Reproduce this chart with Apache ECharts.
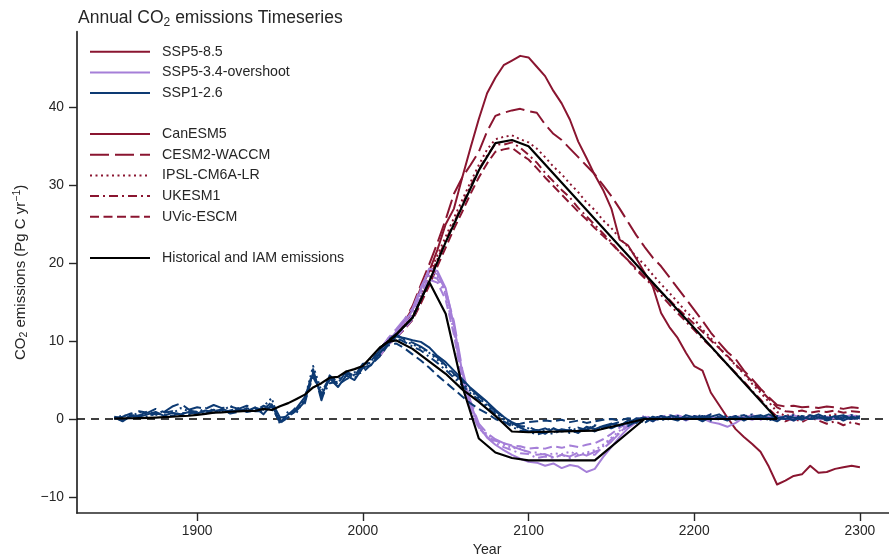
<!DOCTYPE html>
<html><head><meta charset="utf-8">
<script src="https://cdn.jsdelivr.net/npm/echarts@6/dist/echarts.min.js"></script>
<style>html,body{margin:0;padding:0;background:#fff}#c{width:889px;height:557px}</style>
</head><body><div id="c"></div>
<script>
// ---------- data ----------
const histYears = [1850,1855,1860,1865,1870,1875,1880,1885,1890,1895,
  1900,1905,1910,1915,1920,1925,1930,1935,1940,1945,
  1950,1955,1960,1965,1970,1975,1980,1985,1990,1995,
  2000,2005,2010];
const futYears = [2015,2020,2025,2030,2035,2040,2045,2050,2055,2060,
  2065,2070,2075,2080,2085,2090,2095,2100,2105,2110,
  2115,2120,2125,2130,2135,2140,2145,2150,2155,2160,
  2165,2170,2175,2180,2185,2190,2195,2200,2205,2210,
  2215,2220,2225,2230,2235,2240,2245,2250,2255,2260,
  2265,2270,2275,2280,2285,2290,2295,2300];

// historical (all drawn in SSP1-2.6 colour)
const canHist = [0.2,-0.3,0.4,0.3,0.6,0.9,0.4,0.8,0.6,0.9,
  0.7,1.1,0.8,1.3,0.9,1.2,1.0,1.5,0.6,1.9,
  -0.4,0.6,1.4,2.8,5.9,3.0,5.2,4.1,5.6,5.0,
  6.6,6.9,8.4];
const cesmHist = [0.1,0.3,0.7,1.0,0.8,1.3,0.9,1.6,2.0,1.2,
  1.5,1.3,1.8,1.4,1.6,1.3,1.7,1.4,1.2,2.2,
  0.2,0.3,1.1,2.2,6.4,2.4,5.6,4.6,6.1,5.5,
  7.1,7.2,8.8];
const ipslHist = [0.0,0.5,0.3,0.9,0.6,0.5,1.1,0.7,1.4,1.0,
  0.8,1.4,1.1,1.0,1.7,1.0,1.3,1.2,1.6,2.7,
  -0.7,1.0,0.8,2.6,6.8,3.6,5.0,5.2,5.4,6.0,
  6.2,7.8,8.2];
const ukHist = [0.3,0.1,0.2,0.5,0.3,0.7,0.5,0.4,0.8,0.6,
  1.0,0.9,1.2,0.8,1.1,1.4,0.9,1.1,1.7,1.3,
  -0.2,0.4,1.6,2.0,6.1,2.8,4.6,4.8,5.9,5.2,
  6.9,7.4,9.0];
const uvicHist = [0.2,-0.2,0.5,0.4,1.0,0.6,0.8,1.0,0.5,1.1,
  0.9,0.7,1.0,1.2,0.7,0.9,1.4,1.0,1.0,1.6,
  -0.5,0.2,1.2,2.4,5.4,3.3,5.4,4.4,5.1,5.7,
  6.0,7.0,8.0];

// SSP1-2.6
const can126 = [9.6,10.6,10.4,10.1,9.9,9.2,8.1,7.3,6.2,5.1,
  4.0,3.1,2.2,1.2,0.3,-0.5,-1.1,-1.6,-1.4,-1.9,
  -1.2,-1.6,-1.4,-1.8,-1.0,-1.3,-0.9,-0.6,-0.9,-0.2,
  -0.5,0.2,-0.3,0.4,0.1,-0.2,0.5,0.2,-0.3,0.3,
  0.6,0.0,0.4,-0.2,0.3,0.5,0.1,-0.3,0.4,0.2,
  -0.1,0.5,0.2,0.0,0.4,-0.2,0.3,0.1];
const cesm126 = [10.1,10.9,10.2,9.8,9.3,8.6,7.9,6.9,5.8,4.9,
  3.9,2.9,2.0,1.0,0.2,-0.4,-0.9,-1.0,-1.5,-1.2,
  -1.7,-1.3,-1.5,-1.1,-1.4,-0.9,-1.2,-0.7,-0.4,-0.6,
  0.1,-0.3,0.3,0.0,0.5,0.2,-0.1,0.4,0.1,0.6,
  0.2,-0.2,0.3,0.5,0.0,0.2,0.6,0.1,0.3,-0.2,
  0.4,0.2,0.6,0.1,0.3,0.5,0.0,0.4];
const ipsl126 = [10.0,10.3,10.0,9.6,9.1,8.5,7.6,6.7,5.6,4.6,
  3.6,2.7,1.8,0.8,-0.1,-0.7,-1.2,-1.2,-1.7,-1.4,
  -1.2,-1.6,-1.1,-1.5,-1.3,-0.8,-1.1,-0.6,-0.8,-0.3,
  -0.1,-0.4,0.2,0.3,-0.1,0.4,0.1,0.3,0.5,-0.1,
  0.2,0.4,0.0,0.3,0.6,0.2,-0.1,0.4,0.1,0.5,
  0.2,0.0,0.3,0.4,0.1,0.2,0.5,0.2];
const uk126 = [9.8,10.5,9.9,9.3,8.8,8.0,7.2,6.3,5.3,4.3,
  3.3,2.5,1.6,0.6,-0.3,-1.0,-1.5,-1.6,-2.0,-1.7,
  -1.9,-1.4,-1.8,-1.5,-1.2,-1.6,-1.0,-1.2,-0.7,-0.9,
  -0.3,-0.5,0.1,-0.2,0.3,-0.1,0.2,0.0,0.4,-0.2,
  0.1,0.3,-0.1,0.2,0.0,0.4,-0.2,0.3,0.1,-0.1,
  0.3,0.0,0.2,-0.2,0.1,0.3,0.0,0.2];
const uvic126 = [9.4,9.7,9.1,8.3,7.5,6.6,5.6,4.7,3.8,2.9,
  2.0,1.3,0.7,0.0,-0.4,-0.7,-0.6,-0.4,-0.3,-0.2,
  -0.3,-0.1,-0.4,-0.2,-0.5,-0.3,-0.1,0.0,-0.2,0.1,
  0.0,0.2,0.1,-0.1,0.2,0.1,0.0,0.2,0.1,0.3,
  0.1,0.0,0.2,0.1,0.0,0.2,0.1,0.1,0.0,0.2,
  0.1,0.0,0.1,0.2,0.0,0.1,0.1,0.0];

// SSP5-3.4-overshoot
const can534 = [9.8,11.2,12.4,13.9,16.6,19.3,19.0,16.8,12.0,6.0,
  2.0,-0.9,-2.4,-3.3,-4.0,-4.6,-5.1,-5.5,-5.6,-6.0,
  -5.7,-6.3,-5.9,-6.1,-6.8,-6.4,-4.9,-3.6,-2.3,-1.2,
  -0.4,0.2,-0.3,0.3,0.1,0.4,-0.2,0.3,0.1,-0.4,
  -0.6,-1.0,-0.5,0.2,-0.1,0.3,0.0,0.4,0.1,-0.2,
  0.3,0.1,0.4,0.0,0.2,-0.1,0.3,0.1];
const cesm534 = [10.3,11.5,12.8,14.2,16.9,19.0,18.6,16.5,12.5,6.4,
  2.3,-0.6,-1.8,-2.6,-3.1,-3.5,-3.9,-4.2,-4.6,-4.5,
  -4.9,-4.6,-4.8,-4.3,-4.7,-4.2,-3.8,-2.9,-1.8,-0.9,
  -0.1,0.3,0.0,0.4,0.2,0.5,0.1,0.4,0.2,0.6,
  0.3,0.1,0.4,0.2,0.5,0.1,0.3,0.4,0.2,0.5,
  0.1,0.3,0.4,0.2,0.0,0.3,0.5,0.2];
const ipsl534 = [10.1,11.0,12.3,13.6,16.2,18.6,18.3,16.2,11.8,5.8,
  1.9,-0.7,-2.0,-2.8,-3.3,-3.7,-3.8,-4.3,-4.3,-4.7,
  -4.4,-4.5,-4.2,-4.6,-4.3,-4.0,-3.3,-2.4,-1.5,-0.6,
  0.0,0.4,0.1,0.3,0.5,0.0,0.3,0.2,0.4,0.1,
  0.3,0.0,0.2,0.5,0.1,0.3,0.2,0.0,0.4,0.2,
  0.1,0.4,0.0,0.2,0.3,0.1,0.2,0.4];
const uk534 = [9.9,10.9,12.0,13.3,15.9,18.4,18.0,15.9,11.2,5.2,
  1.4,-1.1,-2.3,-3.1,-3.6,-4.0,-4.4,-4.5,-5.0,-4.8,
  -5.0,-4.6,-5.0,-4.7,-4.4,-4.6,-3.5,-2.6,-1.7,-0.8,
  -0.2,0.1,-0.2,0.2,0.0,0.3,-0.1,0.2,0.1,0.3,
  -0.1,0.2,0.0,0.3,0.1,-0.1,0.2,0.0,0.3,0.1,
  -0.1,0.2,0.0,0.3,0.1,0.2,0.0,0.1];
const uvic534 = [9.5,10.4,11.6,12.8,15.4,17.9,17.5,15.3,10.8,4.9,
  1.2,-1.2,-2.2,-2.8,-3.1,-3.4,-3.5,-3.8,-3.7,-3.8,
  -3.5,-3.7,-3.4,-3.6,-3.3,-3.1,-2.6,-1.9,-1.1,-0.5,
  -0.1,0.1,0.0,0.2,0.1,0.0,0.2,0.1,0.1,0.2,
  0.0,0.1,0.2,0.1,0.0,0.1,0.2,0.1,0.0,0.1,
  0.2,0.1,0.0,0.1,0.1,0.0,0.1,0.1];

// SSP5-8.5
const can585 = [9.9,11.0,12.4,14.2,16.8,18.9,21.7,25.0,27.0,31.0,
  34.8,38.5,41.8,43.8,45.4,46.0,46.6,46.4,45.2,44.0,
  42.1,40.5,38.4,35.6,33.5,31.3,29.4,27.0,23.0,22.3,
  20.6,18.8,17.0,13.6,11.8,10.4,8.5,6.8,6.2,3.4,
  1.8,0.2,-1.3,-2.3,-3.2,-4.2,-6.1,-8.4,-7.9,-7.3,
  -7.1,-6.0,-6.9,-6.8,-6.4,-6.2,-6.0,-6.2];
const cesm585 = [10.0,11.2,12.6,14.5,17.2,19.8,22.6,25.6,28.9,31.0,
  32.6,34.3,36.9,38.9,39.3,39.6,39.8,39.5,39.3,37.8,
  36.6,35.8,34.7,33.6,32.5,31.4,30.0,28.6,27.0,25.3,
  23.6,22.1,20.7,19.6,18.2,16.8,15.4,14.0,12.6,11.1,
  9.8,8.6,7.7,6.2,5.1,3.9,2.8,1.8,1.6,1.7,
  1.5,1.6,1.4,1.6,1.5,1.3,1.5,1.4];
const ipsl585 = [10.1,11.1,12.2,13.6,15.9,18.5,21.0,23.4,25.8,28.1,
  30.4,32.6,34.6,35.9,36.2,36.4,35.9,35.5,34.7,33.6,
  32.4,31.4,30.2,29.1,27.8,26.8,25.5,24.5,23.2,22.1,
  20.8,19.8,18.5,17.3,16.2,15.0,13.8,12.8,11.5,10.4,
  9.2,8.0,6.9,5.8,4.5,3.4,2.2,0.9,0.4,0.6,
  0.2,0.5,0.1,0.4,0.6,0.2,0.5,0.3];
const uk585 = [9.7,10.9,12.0,13.4,15.6,18.0,20.5,22.9,25.2,27.5,
  29.9,32.0,33.8,35.3,35.2,35.5,34.8,33.9,32.9,31.6,
  30.5,29.4,28.4,27.1,26.0,24.9,23.8,22.7,21.4,20.4,
  19.1,18.1,17.1,15.9,14.7,13.6,12.5,11.4,10.3,9.3,
  8.1,7.0,5.9,4.8,3.6,2.5,1.3,0.3,-0.3,0.1,
  -0.4,0.2,-0.2,-0.6,-0.3,-0.8,-0.4,-0.7];
const uvic585 = [9.5,10.4,11.5,12.7,14.8,17.1,19.6,22.0,24.4,26.6,
  28.9,31.0,32.8,34.3,34.6,34.8,34.0,33.3,32.2,31.0,
  29.9,28.8,27.7,26.6,25.6,24.5,23.5,22.5,21.4,20.4,
  19.3,18.3,17.3,16.3,15.3,14.2,13.2,12.2,11.2,10.1,
  9.1,8.1,7.0,5.9,4.8,3.7,2.6,1.5,1.0,0.9,
  1.1,0.8,1.0,0.9,1.1,0.8,1.0,0.9];

// historical and IAM emissions (black)
const blackHist = [0.05,0.07,0.10,0.12,0.15,0.19,0.24,0.29,0.36,0.42,
  0.53,0.66,0.82,0.84,0.93,0.98,1.05,1.03,1.30,1.16,
  1.63,2.04,2.58,3.13,4.05,4.60,5.30,5.40,6.10,6.40,
  6.80,7.97,9.10];
const iam585Years = [2015,2020,2030,2040,2050,2060,2070,2080,2090,2100,2250];
const iam585 = [9.9,10.8,13.0,17.6,22.7,27.3,31.9,35.4,35.8,35.0,0];
const iam534Years = [2015,2020,2030,2040,2050,2060,2070,2080,2090,2100,2140,2170,2250];
const iam534 = [9.9,10.8,13.0,17.6,13.5,4.2,-2.5,-4.3,-5.0,-5.3,-5.3,0,0];
const iam126Years = [2015,2020,2030,2040,2050,2060,2070,2080,2090,2100,2140,2170,2250];
const iam126 = [9.9,10.1,9.0,7.4,5.8,3.8,2.2,0.4,-1.6,-1.7,-1.5,0,0];

const modelNames = ['CanESM5','CESM2-WACCM','IPSL-CM6A-LR','UKESM1','UVic-ESCM'];
const scenarioNames = ['SSP5-8.5','SSP5-3.4-overshoot','SSP1-2.6'];
const xTicks = [1900,2000,2100,2200,2300];
const yTicks = [-10,0,10,20,30,40];

// ---------- styles ----------
const RED = '#8a1530', PURPLE = '#a57fd8', BLUE = '#0d3a73', BLACK = '#000000';
const FONT = 'Liberation Sans, Arial, sans-serif';
const TXT = '#262626';
const LW = 2;
const dashes = {
  'CanESM5': 'solid',
  'CESM2-WACCM': [19, 6],
  'IPSL-CM6A-LR': [2, 3.5],
  'UKESM1': [9, 4, 2, 4],
  'UVic-ESCM': [9, 4.5]
};
const modelData = {
  'CanESM5':      {hist: canHist,  s126: can126,  s534: can534,  s585: can585},
  'CESM2-WACCM':  {hist: cesmHist, s126: cesm126, s534: cesm534, s585: cesm585},
  'IPSL-CM6A-LR': {hist: ipslHist, s126: ipsl126, s534: ipsl534, s585: ipsl585},
  'UKESM1':       {hist: ukHist,   s126: uk126,   s534: uk534,   s585: uk585},
  'UVic-ESCM':    {hist: uvicHist, s126: uvic126, s534: uvic534, s585: uvic585}
};
const pairs = (xs, ys) => xs.map((x, i) => [x, ys[i]]);

function lineSeries(name, data, color, type, width, z) {
  return {
    name: name, type: 'line', data: data, symbol: 'none', showSymbol: false,
    silent: true, z: z || 2, animation: false,
    lineStyle: {color: color, width: width || LW, type: type || 'solid', cap: 'butt', join: 'round'},
    itemStyle: {color: 'rgba(0,0,0,0)', opacity: 0}
  };
}

const series = [];
series.push(lineSeries('_zero', [[1827.5, 0], [2322.5, 0]], BLACK, [8, 6], 1.5, 1));
const lastHistYear = histYears[histYears.length - 1];
modelNames.forEach(m => {
  const d = modelData[m];
  const start = [[lastHistYear, d.hist[d.hist.length - 1]]];
  series.push(lineSeries('_' + m + '585', start.concat(pairs(futYears, d.s585)), RED, dashes[m], LW, 2));
});
modelNames.forEach(m => {
  const d = modelData[m];
  const start = [[lastHistYear, d.hist[d.hist.length - 1]]];
  series.push(lineSeries('_' + m + '534', start.concat(pairs(futYears, d.s534)), PURPLE, dashes[m], LW, 3));
});
modelNames.forEach(m => {
  const d = modelData[m];
  series.push(lineSeries('_' + m + '126', pairs(histYears, d.hist).concat(pairs(futYears, d.s126)), BLUE, dashes[m], LW, 4));
});
const blackStart = pairs(histYears, blackHist);
const lastBlack = [[lastHistYear, blackHist[blackHist.length - 1]]];
series.push(lineSeries('_iam585', blackStart.concat(pairs(iam585Years, iam585)), BLACK, 'solid', 2.2, 5));
series.push(lineSeries('_iam534', lastBlack.concat(pairs(iam534Years, iam534)), BLACK, 'solid', 2.2, 5));
series.push(lineSeries('_iam126', lastBlack.concat(pairs(iam126Years, iam126)), BLACK, 'solid', 2.2, 5));

// legend-only series
series.push(lineSeries('SSP5-8.5', [], RED, 'solid'));
series.push(lineSeries('SSP5-3.4-overshoot', [], PURPLE, 'solid'));
series.push(lineSeries('SSP1-2.6', [], BLUE, 'solid'));
modelNames.forEach(m => series.push(lineSeries(m, [], RED, dashes[m])));
series.push(lineSeries('Historical and IAM emissions', [], BLACK, 'solid'));

const legendBase = {
  orient: 'vertical', left: 89, padding: 0, itemWidth: 60, itemHeight: 14, itemGap: 6.7,
  selectedMode: false,
  textStyle: {fontFamily: FONT, fontSize: 14.2, color: TXT, padding: [0, 0, 0, 7], lineHeight: 14},
  itemStyle: {opacity: 0}
};

const chart = echarts.init(document.getElementById('c'), null, {renderer: 'canvas'});
chart.setOption({
  animation: false,
  backgroundColor: '#ffffff',
  title: {
    text: 'Annual CO{sub|2} emissions Timeseries', left: 78, top: 7, padding: 0,
    textStyle: {fontFamily: FONT, fontSize: 17.5, fontWeight: 'normal', color: TXT, lineHeight: 22,
      rich: {sub: {fontFamily: FONT, fontSize: 12, lineHeight: 12, verticalAlign: 'bottom', color: TXT}}}
  },
  legend: [
    Object.assign({}, legendBase, {top: 44.7, data: scenarioNames}),
    Object.assign({}, legendBase, {top: 127, data: modelNames}),
    Object.assign({}, legendBase, {top: 251, data: ['Historical and IAM emissions']})
  ],
  grid: {left: 77, top: 31.7, width: 820.2, height: 481.3, outerBoundsMode: 'none', containLabel: false},
  xAxis: {
    type: 'value', min: 1827.5, max: 2322.5,
    name: 'Year', nameLocation: 'middle', nameGap: 30,
    nameTextStyle: {fontFamily: FONT, fontSize: 14.2, color: TXT},
    axisLine: {show: true, onZero: false, lineStyle: {color: TXT, width: 1.7}},
    axisTick: {show: true, length: 8, lineStyle: {color: TXT, width: 1.4}, customValues: xTicks},
    axisLabel: {fontFamily: FONT, fontSize: 13.8, color: TXT, margin: 11, customValues: xTicks,
      formatter: v => String(v)},
    splitLine: {show: false}
  },
  yAxis: {
    type: 'value', min: -12.06, max: 49.7,
    name: 'CO{sub|2} emissions (Pg C yr{sup|\u22121})', nameLocation: 'middle', nameGap: 42, nameRotate: 90,
    nameTextStyle: {fontFamily: FONT, fontSize: 15, color: TXT, lineHeight: 18,
      rich: {sub: {fontFamily: FONT, fontSize: 10.5, lineHeight: 10, verticalAlign: 'bottom', color: TXT},
             sup: {fontFamily: FONT, fontSize: 10.5, lineHeight: 10, verticalAlign: 'top', color: TXT}}},
    axisLine: {show: true, onZero: false, lineStyle: {color: TXT, width: 1.7}},
    axisTick: {show: true, length: 8, lineStyle: {color: TXT, width: 1.4}, customValues: yTicks},
    axisLabel: {fontFamily: FONT, fontSize: 13.8, color: TXT, margin: 13, customValues: yTicks,
      formatter: v => (v < 0 ? '\u2212' + Math.abs(v) : String(v))},
    splitLine: {show: false}
  },
  series: series
});
</script>
</body></html>
